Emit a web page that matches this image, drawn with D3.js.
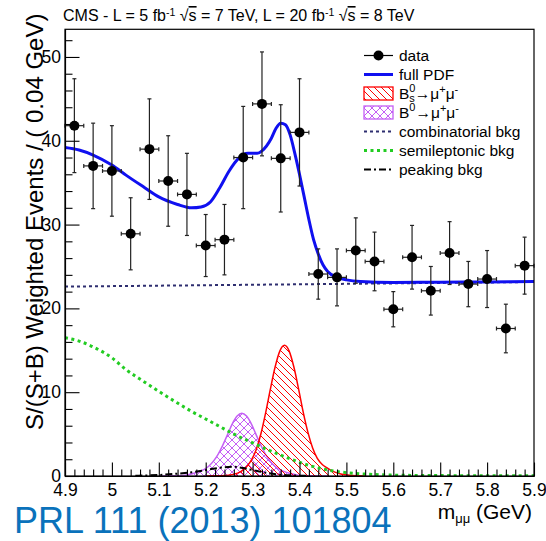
<!DOCTYPE html>
<html>
<head>
<meta charset="utf-8">
<script src="https://cdn.jsdelivr.net/npm/d3@7"></script>
<style>
  body { margin: 0; background: #fff; }
  svg { display: block; }
  text { font-family: "Liberation Sans", Arial, Helvetica, sans-serif; fill: #000; }
</style>
</head>
<body>
<svg id="chart" width="546" height="541"></svg>
<script>
// ---- data: dimuon invariant mass, S/(S+B) weighted, 0.04 GeV bins ----
const binCenters = [4.92, 4.96, 5.00, 5.04, 5.08, 5.12, 5.16, 5.20, 5.24, 5.28, 5.32, 5.36, 5.40,
                    5.44, 5.48, 5.52, 5.56, 5.60, 5.64, 5.68, 5.72, 5.76, 5.80, 5.84, 5.88];
const eventCounts = [41.8, 37.0, 36.4, 28.9, 39.0, 35.2, 33.6, 27.5, 28.2, 38.0, 44.4, 37.9, 41.0,
                     24.1, 23.7, 26.9, 25.6, 19.9, 26.1, 22.1, 26.6, 22.9, 23.5, 17.6, 25.1];
const countErrors = [5.6, 5.1, 5.4, 4.3, 6.0, 5.4, 4.9, 3.7, 4.2, 6.1, 6.2, 6.4, 6.4,
                     3.0, 3.4, 3.9, 3.5, 2.1, 3.8, 2.9, 3.75, 2.7, 3.4, 2.9, 3.4];
const binHalfWidth = 0.02;

// full PDF
const pdfX = [4.90, 4.93, 4.96, 5.00, 5.03, 5.07, 5.10, 5.14, 5.17, 5.19, 5.21, 5.23, 5.25, 5.27,
              5.29, 5.31, 5.32, 5.34, 5.35, 5.36, 5.37, 5.38, 5.39, 5.40, 5.41, 5.42, 5.43, 5.44,
              5.45, 5.46, 5.48, 5.50, 5.53, 5.60, 5.70, 5.80, 5.90];
const pdfY = [39.2, 38.9, 38.3, 37.1, 35.9, 34.4, 33.3, 32.4, 32.0, 32.1, 32.7, 34.4, 36.4, 37.9,
              38.5, 38.5, 38.8, 40.3, 41.5, 42.1, 41.9, 40.7, 38.5, 36.0, 33.3, 30.6, 28.2, 26.5,
              25.2, 24.4, 23.7, 23.4, 23.2, 23.1, 23.12, 23.16, 23.2];

// Bs0 -> mu+ mu- component
const bsX = [5.20, 5.218, 5.248, 5.268, 5.278, 5.288, 5.298, 5.308, 5.318, 5.328, 5.338, 5.348,
             5.358, 5.368, 5.378, 5.388, 5.398, 5.408, 5.418, 5.428, 5.438, 5.448, 5.458, 5.468,
             5.488, 5.508, 5.54];
const bsY = [0.0, 0.02, 0.1, 0.35, 0.65, 1.15, 1.95, 3.2, 5.1, 7.6, 10.4, 13.0,
             14.9, 15.6, 14.9, 13.0, 10.4, 7.6, 5.2, 3.35, 2.1, 1.4, 1.0, 0.65,
             0.25, 0.08, 0.0];

// B0 -> mu+ mu- component
const b0X = [5.10, 5.127, 5.157, 5.177, 5.187, 5.197, 5.207, 5.217, 5.227, 5.237, 5.247, 5.257,
             5.267, 5.277, 5.287, 5.297, 5.307, 5.317, 5.327, 5.337, 5.347, 5.357, 5.367,
             5.377, 5.397, 5.427, 5.46];
const b0Y = [0.0, 0.02, 0.1, 0.35, 0.55, 0.8, 1.2, 1.8, 2.65, 3.75, 5.0, 6.25,
             7.15, 7.5, 7.15, 6.25, 5.0, 3.75, 2.65, 1.8, 1.2, 0.8, 0.55,
             0.35, 0.1, 0.02, 0.0];

// combinatorial background
const combX = [4.90, 5.90];
const combY = [22.6, 23.15];

// semileptonic background
const semiX = [4.90, 4.93, 4.96, 5.00, 5.03, 5.07, 5.10, 5.14, 5.17, 5.20, 5.23, 5.26, 5.30, 5.34,
               5.38, 5.42, 5.46, 5.50, 5.55, 5.60, 5.70, 5.80, 5.90];
const semiY = [16.5, 16.1, 15.4, 14.1, 12.7, 11.2, 10.1, 8.7, 7.7, 6.8, 5.9, 5.0, 3.95, 2.95,
               2.05, 1.27, 0.72, 0.4, 0.2, 0.1, 0.05, 0.03, 0.02];

// peaking background
const peakX = [5.05, 5.10, 5.14, 5.17, 5.20, 5.22, 5.24, 5.26, 5.28, 5.30, 5.32, 5.35, 5.38, 5.42];
const peakY = [0.03, 0.12, 0.28, 0.45, 0.7, 0.9, 1.05, 1.1, 0.95, 0.72, 0.48, 0.22, 0.08, 0.02];

// axis ticks
const xMajorTicks = [4.9, 5.0, 5.1, 5.2, 5.3, 5.4, 5.5, 5.6, 5.7, 5.8, 5.9];
const xTickLabels = ["4.9", "5", "5.1", "5.2", "5.3", "5.4", "5.5", "5.6", "5.7", "5.8", "5.9"];
const yMajorTicks = [0, 10, 20, 30, 40, 50];
const yTickLabels = ["0", "10", "20", "30", "40", "50"];

// ---- layout ----
const svg = d3.select("#chart");
const X0 = 65, X1 = 534, Y0 = 476, Y1 = 29.3;
const x = d3.scaleLinear().domain([4.9, 5.9]).range([X0, X1]);
const y = d3.scaleLinear().domain([0, 53.3]).range([Y0, Y1]);

const BLUE = "#1010f0", RED = "#ff0000", VIOLET = "#c45ff5", NAVY = "#2e2e70", GREEN = "#22cc22";

// hatch patterns
const defs = svg.append("defs");
defs.append("pattern").attr("id", "hatchBs").attr("patternUnits", "userSpaceOnUse")
  .attr("width", 7).attr("height", 7)
  .append("path").attr("d", "M0,0L7,7M-1,6L1,8M6,-1L8,1")
  .attr("stroke", RED).attr("stroke-width", 1);
defs.append("pattern").attr("id", "hatchB0").attr("patternUnits", "userSpaceOnUse")
  .attr("width", 8).attr("height", 8)
  .append("path").attr("d", "M0,0L8,8M-1,7L1,9M7,-1L9,1M0,8L8,0M-1,1L1,-1M7,9L9,7")
  .attr("stroke", VIOLET).attr("stroke-width", 1);
defs.append("clipPath").attr("id", "plotClip")
  .append("rect").attr("x", X0).attr("y", Y1).attr("width", X1 - X0).attr("height", Y0 - Y1);

const plot = svg.append("g").attr("clip-path", "url(#plotClip)");

const lineGen = d3.line().x(d => x(d[0])).y(d => y(d[1])).curve(d3.curveMonotoneX);
const areaGen = d3.area().x(d => x(d[0])).y0(y(0)).y1(d => y(d[1])).curve(d3.curveMonotoneX);

// signal components (hatched)
const b0Pts = d3.zip(b0X, b0Y);
plot.append("path").attr("d", areaGen(b0Pts)).attr("fill", "url(#hatchB0)");
plot.append("path").attr("d", lineGen(b0Pts)).attr("fill", "none").attr("stroke", VIOLET).attr("stroke-width", 1.5);
const bsPts = d3.zip(bsX, bsY);
plot.append("path").attr("d", areaGen(bsPts)).attr("fill", "url(#hatchBs)");
plot.append("path").attr("d", lineGen(bsPts)).attr("fill", "none").attr("stroke", RED).attr("stroke-width", 1.5);

// backgrounds
plot.append("path").attr("d", lineGen(d3.zip(combX, combY))).attr("fill", "none")
  .attr("stroke", NAVY).attr("stroke-width", 2).attr("stroke-dasharray", "3,3");
plot.append("path").attr("d", lineGen(d3.zip(semiX, semiY))).attr("fill", "none")
  .attr("stroke", GREEN).attr("stroke-width", 3).attr("stroke-dasharray", "3,3.5");
plot.append("path").attr("d", lineGen(d3.zip(peakX, peakY))).attr("fill", "none")
  .attr("stroke", "#000").attr("stroke-width", 2).attr("stroke-dasharray", "7,3,2,3");

// full PDF
plot.append("path").attr("d", lineGen(d3.zip(pdfX, pdfY))).attr("fill", "none")
  .attr("stroke", BLUE).attr("stroke-width", 3);

// data points with error bars
const dataG = svg.append("g");
binCenters.forEach((c, i) => {
  const v = eventCounts[i], e = countErrors[i];
  const cx = x(c), cy = y(v);
  const g = dataG.append("g").attr("stroke", "#222").attr("stroke-width", 1.2);
  g.append("line").attr("x1", cx).attr("x2", cx).attr("y1", y(v + e)).attr("y2", y(v - e));
  g.append("line").attr("x1", cx - 2).attr("x2", cx + 2).attr("y1", y(v + e)).attr("y2", y(v + e));
  g.append("line").attr("x1", cx - 2).attr("x2", cx + 2).attr("y1", y(v - e)).attr("y2", y(v - e));
  const xl = x(c - binHalfWidth), xr = x(c + binHalfWidth);
  g.append("line").attr("x1", xl).attr("x2", xr).attr("y1", cy).attr("y2", cy);
  g.append("line").attr("x1", xl).attr("x2", xl).attr("y1", cy - 2).attr("y2", cy + 2);
  g.append("line").attr("x1", xr).attr("x2", xr).attr("y1", cy - 2).attr("y2", cy + 2);
  dataG.append("circle").attr("cx", cx).attr("cy", cy).attr("r", 5).attr("fill", "#000");
});

// frame
svg.append("rect").attr("x", X0).attr("y", Y1).attr("width", X1 - X0).attr("height", Y0 - Y1)
  .attr("fill", "none").attr("stroke", "#000").attr("stroke-width", 1.2);

// axes (ticks drawn inward)
const xMinor = d3.range(0, 51).map(i => 4.9 + i * 0.02).filter((d, i) => i % 5 !== 0);
const yMinor = d3.range(0, 27).map(i => i * 2).filter(d => d % 10 !== 0 && d < 53.3);

const xAxis = svg.append("g").attr("transform", `translate(0,${Y0})`)
  .call(d3.axisBottom(x).tickValues(xMajorTicks).tickFormat((d, i) => xTickLabels[i])
    .tickSize(-13.5).tickSizeOuter(0).tickPadding(8));
svg.append("g").attr("transform", `translate(0,${Y0})`)
  .call(d3.axisBottom(x).tickValues(xMinor).tickFormat("").tickSize(-6.5).tickSizeOuter(0));
const yAxis = svg.append("g").attr("transform", `translate(${X0},0)`)
  .call(d3.axisLeft(y).tickValues(yMajorTicks).tickFormat((d, i) => yTickLabels[i])
    .tickSize(-14.5).tickSizeOuter(0).tickPadding(4));
svg.append("g").attr("transform", `translate(${X0},0)`)
  .call(d3.axisLeft(y).tickValues(yMinor).tickFormat("").tickSize(-7.5).tickSizeOuter(0));
svg.selectAll(".tick line, .domain").attr("stroke", "#000").attr("stroke-width", 1.1);
xAxis.selectAll("text").attr("font-size", 17.5).attr("font-family", null);
yAxis.selectAll("text").attr("font-size", 17.5).attr("font-family", null);

// axis titles
svg.append("text").attr("transform", "translate(43,430) rotate(-90)").attr("font-size", 24)
  .text("S/(S+B) Weighted Events / ( 0.04 GeV)");
const xt = svg.append("text").attr("x", 532).attr("y", 519).attr("text-anchor", "end").attr("font-size", 21);
xt.append("tspan").text("m");
xt.append("tspan").attr("font-size", 13).attr("dy", 4).text("μμ");
xt.append("tspan").attr("dy", -4).text(" (GeV)");

// header
const hd = svg.append("text").attr("x", 63).attr("y", 21).attr("font-size", 16);
hd.append("tspan").text("CMS - L = 5 fb");
hd.append("tspan").attr("font-size", 10.5).attr("dy", -5).text("-1");
hd.append("tspan").attr("dy", 5).text(" √");
hd.append("tspan").attr("text-decoration", "overline").text("s");
hd.append("tspan").text(" = 7 TeV, L = 20 fb");
hd.append("tspan").attr("font-size", 10.5).attr("dy", -5).text("-1");
hd.append("tspan").attr("dy", 5).text(" √");
hd.append("tspan").attr("text-decoration", "overline").text("s");
hd.append("tspan").text(" = 8 TeV");

// publication reference
svg.append("text").attr("x", 14).attr("y", 533).attr("font-size", 36).style("fill", "#0a72bb")
  .text("PRL 111 (2013) 101804");

// legend
const LX0 = 364, LX1 = 393, LT = 399;
const rowY = i => 55.5 + i * 19;
const leg = svg.append("g");
function legendText(i) {
  return leg.append("text").attr("x", LT).attr("y", rowY(i) + 5.5).attr("font-size", 15.5);
}
// data
leg.append("line").attr("x1", LX0).attr("x2", LX1).attr("y1", rowY(0)).attr("y2", rowY(0))
  .attr("stroke", "#000").attr("stroke-width", 1.2);
leg.append("circle").attr("cx", (LX0 + LX1) / 2).attr("cy", rowY(0)).attr("r", 5).attr("fill", "#000");
legendText(0).text("data");
// full PDF
leg.append("line").attr("x1", LX0).attr("x2", LX1).attr("y1", rowY(1)).attr("y2", rowY(1))
  .attr("stroke", BLUE).attr("stroke-width", 3);
legendText(1).text("full PDF");
// Bs
leg.append("rect").attr("x", LX0).attr("y", rowY(2) - 6.5).attr("width", LX1 - LX0).attr("height", 13)
  .attr("fill", "url(#hatchBs)").attr("stroke", RED).attr("stroke-width", 1.3);
const tBs = legendText(2);
tBs.append("tspan").text("B");
tBs.append("tspan").attr("font-size", 11).attr("dy", -7).text("0");
tBs.append("tspan").attr("font-size", 11).attr("dx", -6.2).attr("dy", 10).text("s");
tBs.append("tspan").attr("dy", -3).text("→μ");
tBs.append("tspan").attr("font-size", 11).attr("dy", -6).text("+");
tBs.append("tspan").attr("dy", 6).text("μ");
tBs.append("tspan").attr("font-size", 11).attr("dy", -6).text("-");
// B0
leg.append("rect").attr("x", LX0).attr("y", rowY(3) - 6.5).attr("width", LX1 - LX0).attr("height", 13)
  .attr("fill", "url(#hatchB0)").attr("stroke", VIOLET).attr("stroke-width", 1.3);
const tB0 = legendText(3);
tB0.append("tspan").text("B");
tB0.append("tspan").attr("font-size", 11).attr("dy", -7).text("0");
tB0.append("tspan").attr("dy", 7).text("→μ");
tB0.append("tspan").attr("font-size", 11).attr("dy", -6).text("+");
tB0.append("tspan").attr("dy", 6).text("μ");
tB0.append("tspan").attr("font-size", 11).attr("dy", -6).text("-");
// backgrounds
leg.append("line").attr("x1", LX0).attr("x2", LX1).attr("y1", rowY(4)).attr("y2", rowY(4))
  .attr("stroke", NAVY).attr("stroke-width", 2).attr("stroke-dasharray", "3,3");
legendText(4).text("combinatorial bkg");
leg.append("line").attr("x1", LX0).attr("x2", LX1).attr("y1", rowY(5)).attr("y2", rowY(5))
  .attr("stroke", GREEN).attr("stroke-width", 3).attr("stroke-dasharray", "3,3.5");
legendText(5).text("semileptonic bkg");
leg.append("line").attr("x1", LX0).attr("x2", LX1).attr("y1", rowY(6)).attr("y2", rowY(6))
  .attr("stroke", "#000").attr("stroke-width", 2).attr("stroke-dasharray", "7,3,2,3");
legendText(6).text("peaking bkg");
</script>
</body>
</html>
